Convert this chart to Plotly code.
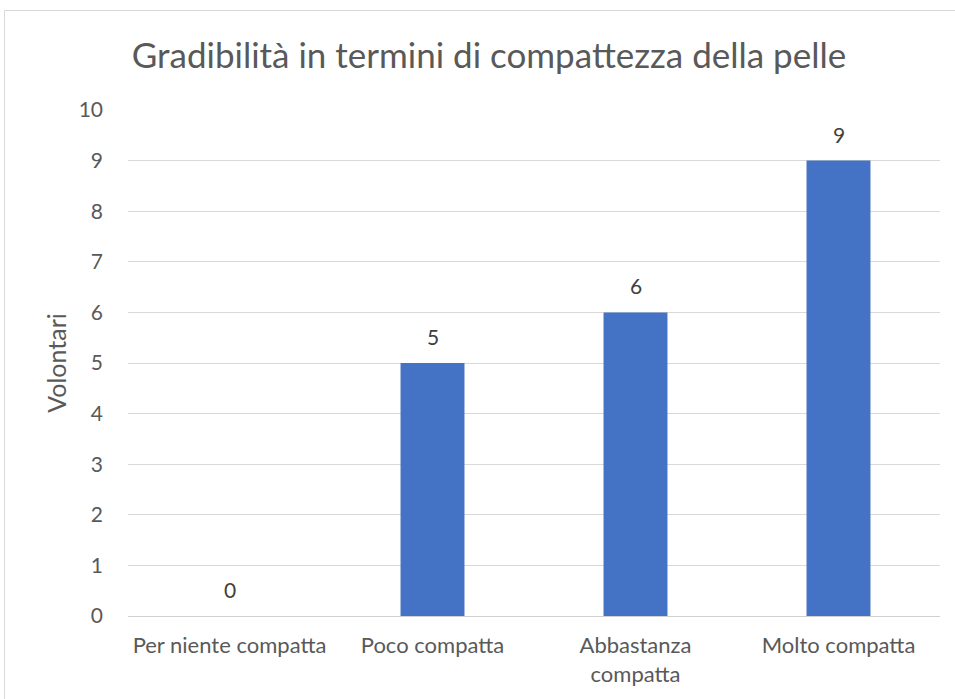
import plotly.graph_objects as go

categories = ["Per niente compatta", "Poco compatta", "Abbastanza compatta", "Molto compatta"]
tick_text = ["Per niente compatta", "Poco compatta", "Abbastanza<br>compatta", "Molto compatta"]
values = [0, 5, 6, 9]
y_ticks = [0, 1, 2, 3, 4, 5, 6, 7, 8, 9, 10]

FONT = "Lato, 'Open Sans', sans-serif"
GREY = "#595959"

fig = go.Figure(go.Bar(
    x=categories, y=values,
    marker=dict(color="#4472C4", line=dict(width=0)),
    hoverinfo="x+y",
))

for c, v in zip(categories, values):
    fig.add_annotation(x=c, y=v, text=str(v), showarrow=False, yanchor="bottom",
                       yshift=12, font=dict(size=21, color="#404040", family=FONT))

fig.update_layout(
    width=955, height=699,
    margin=dict(l=128, r=955 - 940, t=110, b=699 - 616),
    paper_bgcolor="white", plot_bgcolor="white",
    bargap=0.685,
    showlegend=False,
    font=dict(family=FONT, color=GREY, size=21),
    title=dict(text="Gradibilità in termini di compattezza della pelle",
               x=489 / 955, xanchor="center", y=1 - 56 / 699, yanchor="middle",
               font=dict(size=35, color=GREY, family=FONT)),
    xaxis=dict(tickvals=categories, ticktext=tick_text, showgrid=False,
               showline=False, ticks="", ticklabelstandoff=14,
               tickfont=dict(size=22, color=GREY)),
    yaxis=dict(range=[0, 10], tickvals=y_ticks, showgrid=True, gridcolor="#d9d9d9",
               gridwidth=1, zeroline=True, zerolinecolor="#d0d0d0", zerolinewidth=1,
               ticks="", ticklabelstandoff=24, tickfont=dict(size=21, color=GREY),
               title=dict(text="Volontari", font=dict(size=25, color=GREY), standoff=4)),
    shapes=[dict(type="rect", xref="paper", yref="paper",
                 x0=(4.5-128)/812, x1=(965-128)/812, y0=(616-710)/506, y1=(616-10.5)/506,
                 line=dict(color="#d9d9d9", width=1), fillcolor="rgba(0,0,0,0)", layer="below")],
)

fig.write_html("out.html", config={"displayModeBar": False},
               post_script="document.body.style.margin='0';document.body.style.padding='0';")
